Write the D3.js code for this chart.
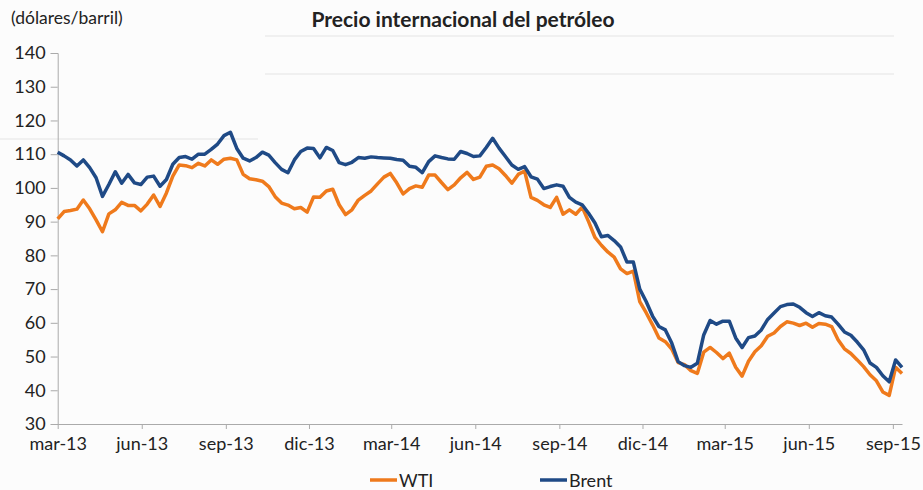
<!DOCTYPE html>
<html>
<head>
<meta charset="utf-8">
<script src="https://cdn.jsdelivr.net/npm/d3@7"></script>
<style>
  html, body { margin: 0; padding: 0; background: #fcfcfc; }
  svg { display: block; }
  text { font-family: Lato, "Open Sans", sans-serif; fill: #222; }
</style>
</head>
<body>
<svg id="chart" width="923" height="490"></svg>
<script>
// ---- data (weekly, starting 2013-03-01) ----
const startDate = "2013-03-01";
const stepDays = 7;
const brent = [
  110.6,109.5,108.3,106.5,108.3,106.0,103.0,97.5,101.0,104.8,
  101.4,104.0,101.5,101.0,103.2,103.5,100.5,102.5,107.0,109.0,
  109.3,108.5,110.0,110.0,111.4,113.0,115.5,116.5,111.7,108.8,
  108.0,109.0,110.6,109.7,107.5,105.5,104.5,108.3,110.8,111.8,
  111.7,108.9,112.0,111.1,107.5,106.9,107.6,109.0,108.8,109.2,
  109.0,108.9,108.8,108.4,108.2,106.4,106.1,104.5,107.8,109.5,
  109.0,108.6,108.5,110.8,110.2,109.3,109.5,112.0,114.7,111.8,
  109.3,106.8,105.5,106.3,103.3,102.6,99.8,100.4,100.9,100.5,
  97.2,95.8,95.0,92.5,89.6,85.5,85.9,84.4,82.5,78.0,
  78.0,70.0,66.3,62.0,58.9,57.9,54.0,48.5,47.3,46.8,
  48.0,56.4,60.7,59.6,60.5,60.5,55.5,52.7,55.6,56.1,
  57.9,61.0,62.9,64.8,65.4,65.6,64.6,63.0,61.9,63.0,
  62.1,61.7,59.6,57.3,56.3,54.3,52.0,48.1,46.8,44.3,
  42.5,49.0,46.8
];
const wti = [
  90.8,93.0,93.3,93.7,96.4,93.8,90.5,87.0,92.3,93.5,
  95.7,94.8,94.8,93.2,95.2,97.9,94.5,98.5,103.5,106.8,
  106.6,106.0,107.3,106.5,108.3,107.0,108.5,108.8,108.3,104.0,
  102.7,102.4,102.0,100.4,97.4,95.5,94.9,93.8,94.2,92.8,
  97.3,97.2,99.1,99.6,95.0,92.1,93.5,96.4,97.8,99.1,
  101.2,103.2,104.3,101.5,98.2,99.8,100.6,100.2,103.8,103.8,
  101.6,99.5,100.9,103.0,104.6,102.5,103.2,106.4,106.8,105.7,
  103.7,101.4,104.0,105.0,97.2,96.3,95.0,94.2,97.2,92.2,
  93.5,92.2,94.3,90.0,85.3,83.0,81.0,79.5,76.0,74.6,
  75.3,66.3,63.0,59.4,55.5,54.4,52.2,48.2,47.6,45.8,
  45.0,51.3,52.7,51.2,49.4,51.0,46.8,44.2,48.6,51.4,
  53.2,56.0,57.0,58.9,60.3,59.9,59.2,59.9,58.7,59.8,
  59.6,58.9,55.0,52.3,50.9,49.0,47.0,44.6,42.8,39.5,
  38.5,46.8,45.0
];
const seriesNames = ["WTI", "Brent"];
const yTicks = [30, 40, 50, 60, 70, 80, 90, 100, 110, 120, 130, 140];
const xTickDates = ["2013-03-01","2013-06-01","2013-09-01","2013-12-01","2014-03-01","2014-06-01",
                    "2014-09-01","2014-12-01","2015-03-01","2015-06-01","2015-09-01"];
const xTickLabels = ["mar-13","jun-13","sep-13","dic-13","mar-14","jun-14",
                     "sep-14","dic-14","mar-15","jun-15","sep-15"];
const axisEnd = "2015-09-11";
const titleText = "Precio internacional del petróleo";
const unitText = "(dólares/barril)";

// ---- drawing ----
const parse = d3.utcParse("%Y-%m-%d");
const t0 = parse(startDate);
const dates = brent.map((_, i) => d3.utcDay.offset(t0, i * stepDays));

const svg = d3.select("#chart");
const colors = { WTI: "#EF7A1C", Brent: "#1F4A86" };

// faint scan lines from the original
svg.append("line").attr("x1", 265).attr("x2", 894).attr("y1", 36).attr("y2", 36)
  .attr("stroke", "#ececec").attr("stroke-width", 1.5);
svg.append("line").attr("x1", 265).attr("x2", 894).attr("y1", 74).attr("y2", 74)
  .attr("stroke", "#ececec").attr("stroke-width", 1.5);
svg.append("line").attr("x1", 0).attr("x2", 258).attr("y1", 139).attr("y2", 139)
  .attr("stroke", "#e4e4e4").attr("stroke-width", 1);

const x = d3.scaleUtc().domain([t0, parse(axisEnd)]).range([57.7, 902]);
const y = d3.scaleLinear().domain([30, 140]).range([424, 53]);

// y axis
const yAxis = d3.axisLeft(y).tickValues(yTicks).tickSize(7).tickPadding(5);
const gy = svg.append("g").attr("transform", "translate(57.7,0)").call(yAxis);
gy.select(".domain").attr("stroke", "#aaa");
gy.selectAll(".tick line").attr("stroke", "#aaa");
gy.selectAll(".tick text").attr("font-size", 18).attr("fill", "#222")
  .attr("font-family", "Lato, sans-serif");

// x axis
const xAxis = d3.axisBottom(x).tickValues(xTickDates.map(parse))
  .tickFormat((d, i) => xTickLabels[i]).tickSize(5).tickSizeOuter(0).tickPadding(8);
const gx = svg.append("g").attr("transform", "translate(0,424)").call(xAxis);
gx.select(".domain").attr("stroke", "#aaa");
gx.selectAll(".tick line").attr("stroke", "#aaa");
gx.selectAll(".tick text").attr("font-size", 18).attr("fill", "#222")
  .attr("font-family", "Lato, sans-serif");

// lines
const line = d3.line().x((d, i) => x(dates[i])).y(d => y(d)).curve(d3.curveLinear);
svg.append("path").datum(wti).attr("d", line).attr("fill", "none")
  .attr("stroke", colors.WTI).attr("stroke-width", 3.5).attr("stroke-linejoin", "round");
svg.append("path").datum(brent).attr("d", line).attr("fill", "none")
  .attr("stroke", colors.Brent).attr("stroke-width", 3.5).attr("stroke-linejoin", "round");

// titles
svg.append("text").attr("x", 463).attr("y", 27).attr("text-anchor", "middle")
  .attr("font-size", 21).attr("font-weight", "bold").text(titleText);
svg.append("text").attr("x", 11).attr("y", 24).attr("font-size", 17.5).text(unitText);

// legend
const legendPos = [{ name: "WTI", x: 370 }, { name: "Brent", x: 540 }];
legendPos.forEach(l => {
  svg.append("line").attr("x1", l.x).attr("x2", l.x + 27).attr("y1", 480).attr("y2", 480)
    .attr("stroke", colors[l.name]).attr("stroke-width", 3.5);
  svg.append("text").attr("x", l.x + 29).attr("y", 486.5).attr("font-size", 18).text(l.name);
});
</script>
</body>
</html>
